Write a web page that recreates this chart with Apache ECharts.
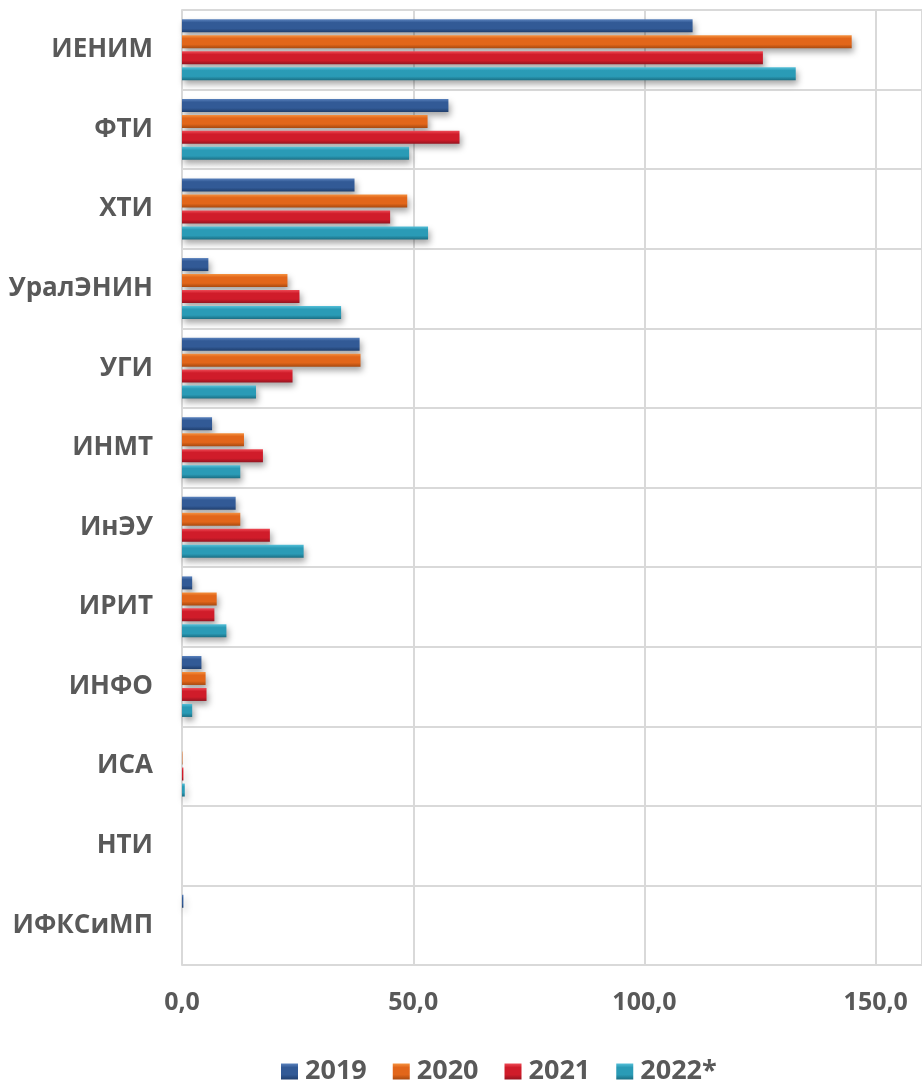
<!DOCTYPE html>
<html>
<head>
<meta charset="utf-8">
<script src="https://cdn.jsdelivr.net/npm/echarts@6/dist/echarts.min.js"></script>
<style>
  html, body { margin: 0; padding: 0; background: #fff; }
  #chart { width: 922px; height: 1080px; }
</style>
</head>
<body>
<div id="chart"></div>
<script>
const institutes = ['ИЕНИМ', 'ФТИ', 'ХТИ', 'УралЭНИН', 'УГИ', 'ИНМТ', 'ИнЭУ', 'ИРИТ', 'ИНФО', 'ИСА', 'НТИ', 'ИФКСиМП']
const years = ['2019', '2020', '2021', '2022*']

const values2019 = [110.4, 57.6, 37.3, 5.7, 38.4, 6.5, 11.6, 2.2, 4.2, 0, 0, 0.3]
const values2020 = [144.8, 53.1, 48.7, 22.8, 38.6, 13.4, 12.6, 7.5, 5.1, 0.1, 0, 0]
const values2021 = [125.6, 60.0, 45.0, 25.4, 23.9, 17.5, 19.0, 7.0, 5.3, 0.3, 0, 0]
const values2022 = [132.7, 49.1, 53.2, 34.4, 16.0, 12.6, 26.3, 9.6, 2.2, 0.6, 0, 0]

const xTicks = [0, 50, 100, 150]

const colors = [
  ['#5a82bd', '#325a96', '#203f6e'],
  ['#f5913f', '#e2661a', '#a84a10'],
  ['#ee4a55', '#d01c2a', '#941420'],
  ['#54bfd8', '#2a9bb6', '#1b6e83']
]
const seriesData = [values2019, values2020, values2021, values2022]

const textColor = '#595959'
const gridColor = '#d9d9d9'

const chart = echarts.init(document.getElementById('chart'))

// bevelled look: light top edge, darker bottom edge
function barFill (c) {
  return new echarts.graphic.LinearGradient(0, 0, 0, 1, [
    { offset: 0, color: c[0] },
    { offset: 0.25, color: c[1] },
    { offset: 0.7, color: c[1] },
    { offset: 1, color: c[2] }
  ])
}

chart.setOption({
  backgroundColor: '#fff',
  animation: false,
  color: colors.map(c => c[1]),
  grid: {
    left: 182,
    right: -2,
    top: 10,
    bottom: 115,
    containLabel: false
  },
  legend: {
    data: years,
    top: 1053,
    left: 276,
    itemWidth: 17,
    itemHeight: 16,
    itemGap: 26,
    icon: 'rect',
    textStyle: {
      color: textColor,
      fontFamily: 'Open Sans',
      fontWeight: 'bold',
      fontSize: 27,
      padding: [0, 0, 0, 2]
    }
  },
  xAxis: {
    type: 'value',
    min: 0,
    max: 160,
    interval: 50,
    axisLine: { show: false },
    axisTick: { show: false },
    splitLine: { show: true, lineStyle: { color: gridColor, width: 2 } },
    axisLabel: {
      showMaxLabel: false,
      margin: 25,
      color: textColor,
      fontFamily: 'Open Sans',
      fontWeight: 'bold',
      fontSize: 25,
      formatter: function (v) {
        return xTicks.indexOf(v) >= 0 ? v.toFixed(1).replace('.', ',') : ''
      }
    }
  },
  yAxis: {
    type: 'category',
    data: institutes,
    inverse: true,
    axisLine: { show: true, lineStyle: { color: gridColor, width: 2 } },
    axisTick: { show: false },
    splitLine: { show: true, lineStyle: { color: gridColor, width: 2 } },
    axisLabel: {
      margin: 29,
      color: textColor,
      fontFamily: 'Open Sans',
      fontWeight: 'bold',
      fontSize: 26
    }
  },
  series: seriesData.map((d, i) => ({
    name: years[i],
    type: 'bar',
    data: d,
    barWidth: 13,
    barGap: '23%',
    itemStyle: {
      color: barFill(colors[i]),
      borderWidth: 0,
      shadowColor: 'rgba(0,0,0,0.35)',
      shadowBlur: 6,
      shadowOffsetX: 2,
      shadowOffsetY: 4
    }
  }))
})
</script>
</body>
</html>
